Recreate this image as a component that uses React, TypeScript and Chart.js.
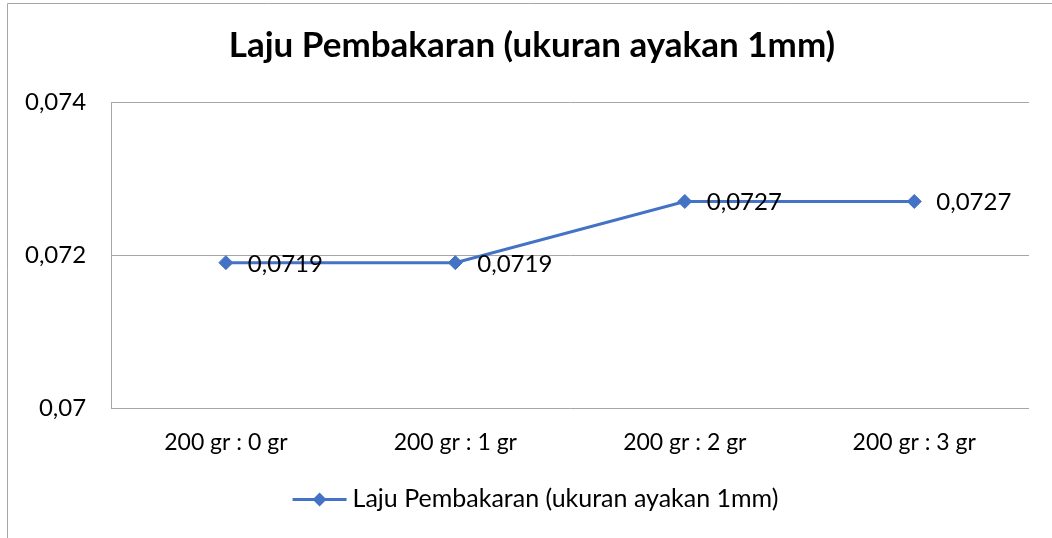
import React, { useEffect, useRef } from "react";
import { Chart, registerables } from "chart.js";

Chart.register(...registerables);

const categories = ["200 gr : 0 gr", "200 gr : 1 gr", "200 gr : 2 gr", "200 gr : 3 gr"];
const seriesValues = [0.0719, 0.0719, 0.0727, 0.0727];
const seriesLabel = "Laju Pembakaran (ukuran ayakan 1mm)";
const chartTitle = "Laju Pembakaran (ukuran ayakan 1mm)";
const yTickValues = [0.07, 0.072, 0.074];

const FONT = "Lato, 'Open Sans', sans-serif";
const LINE_COLOR = "#4472C4";
const GRID_COLOR = "#a6a6a6";
const W = 1052;
const H = 538;
const Y_TICK_SIZE = 24;
const Y_TICK_PAD = 25;
const PLOT_LEFT = 110;

const fmt = (v: number) => String(Number(v.toFixed(4))).replace(".", ",");

const drawDiamond = (ctx: CanvasRenderingContext2D, x: number, y: number, r: number) => {
  ctx.beginPath();
  ctx.moveTo(x - r, y);
  ctx.lineTo(x, y - r);
  ctx.lineTo(x + r, y);
  ctx.lineTo(x, y + r);
  ctx.closePath();
  ctx.fill();
};

const decorPlugin = {
  id: "decor",
  afterDraw(chart: any) {
    const ctx: CanvasRenderingContext2D = chart.ctx;
    ctx.save();
    // outer frame (partially visible)
    ctx.strokeStyle = GRID_COLOR;
    ctx.lineWidth = 1;
    ctx.beginPath();
    ctx.moveTo(7.5, H);
    ctx.lineTo(7.5, 3.5);
    ctx.lineTo(W, 3.5);
    ctx.stroke();

    // title
    ctx.fillStyle = "#000000";
    ctx.font = `bold 35px ${FONT}`;
    ctx.textAlign = "center";
    ctx.textBaseline = "alphabetic";
    ctx.fillText(chartTitle, 532, 57);

    // data labels
    const meta = chart.getDatasetMeta(0);
    ctx.font = `24px ${FONT}`;
    ctx.textAlign = "left";
    ctx.textBaseline = "alphabetic";
    meta.data.forEach((pt: any, i: number) => {
      ctx.fillStyle = "#000000";
      ctx.fillText(fmt(seriesValues[i]), pt.x + 22, pt.y + 9);
    });

    // legend
    ctx.font = `25px ${FONT}`;
    const tw = ctx.measureText(seriesLabel).width;
    const total = 54 + 6 + tw;
    const x0 = 535.5 - total / 2;
    const ly = 499.5;
    ctx.strokeStyle = LINE_COLOR;
    ctx.lineWidth = 3;
    ctx.beginPath();
    ctx.moveTo(x0, ly);
    ctx.lineTo(x0 + 54, ly);
    ctx.stroke();
    ctx.fillStyle = LINE_COLOR;
    drawDiamond(ctx, x0 + 27, ly, 7);
    ctx.fillStyle = "#000000";
    ctx.textAlign = "left";
    ctx.textBaseline = "alphabetic";
    ctx.fillText(seriesLabel, x0 + 60, 507);
    ctx.restore();
  },
};

export default function App() {
  const ref = useRef<HTMLCanvasElement | null>(null);

  useEffect(() => {
    if (!ref.current) return;
    const chart: any = new Chart(ref.current, {
      type: "line",
      data: {
        labels: categories,
        datasets: [
          {
            label: seriesLabel,
            data: seriesValues,
            borderColor: LINE_COLOR,
            backgroundColor: LINE_COLOR,
            borderWidth: 3,
            tension: 0,
            pointStyle: "rectRot",
            pointRadius: 7,
            pointBackgroundColor: LINE_COLOR,
            pointBorderColor: LINE_COLOR,
            pointBorderWidth: 1,
          },
        ],
      },
      options: {
        responsive: false,
        animation: false,
        devicePixelRatio: 1,
        layout: { padding: { top: 102, right: 23, left: 0, bottom: 0 } },
        plugins: {
          legend: { display: false },
          title: { display: false },
          tooltip: { enabled: false },
        },
        scales: {
          x: {
            type: "category",
            offset: true,
            grid: { display: false, drawTicks: false },
            border: { display: false },
            ticks: {
              color: "#000000",
              font: { family: FONT, size: 23 },
              padding: 21,
              maxRotation: 0,
            },
            afterFit: (scale: any) => {
              scale.height = H - 408;
            },
          },
          y: {
            min: 0.07,
            max: 0.074,
            afterBuildTicks: (scale: any) => {
              scale.ticks = yTickValues.map((v) => ({ value: v }));
            },
            grid: { color: GRID_COLOR, lineWidth: 1, drawTicks: false },
            border: { display: true, color: GRID_COLOR, width: 1 },
            ticks: {
              color: "#000000",
              font: { family: FONT, size: Y_TICK_SIZE },
              padding: Y_TICK_PAD,
              callback: (v: any) => fmt(Number(v)),
            },
          },
        },
      },
      plugins: [decorPlugin],
    });
    // shift the plot area so that it starts at PLOT_LEFT
    const dx = PLOT_LEFT - chart.chartArea.left;
    if (Math.abs(dx) > 0.5) {
      chart.options.layout.padding.left = Math.max(0, dx);
      chart.update();
    }
    return () => chart.destroy();
  }, []);

  return (
    <div style={{ position: "absolute", left: 0, top: 0, width: W, height: H, background: "#ffffff" }}>
      <canvas ref={ref} width={W} height={H} style={{ display: "block", width: W, height: H }} />
    </div>
  );
}
